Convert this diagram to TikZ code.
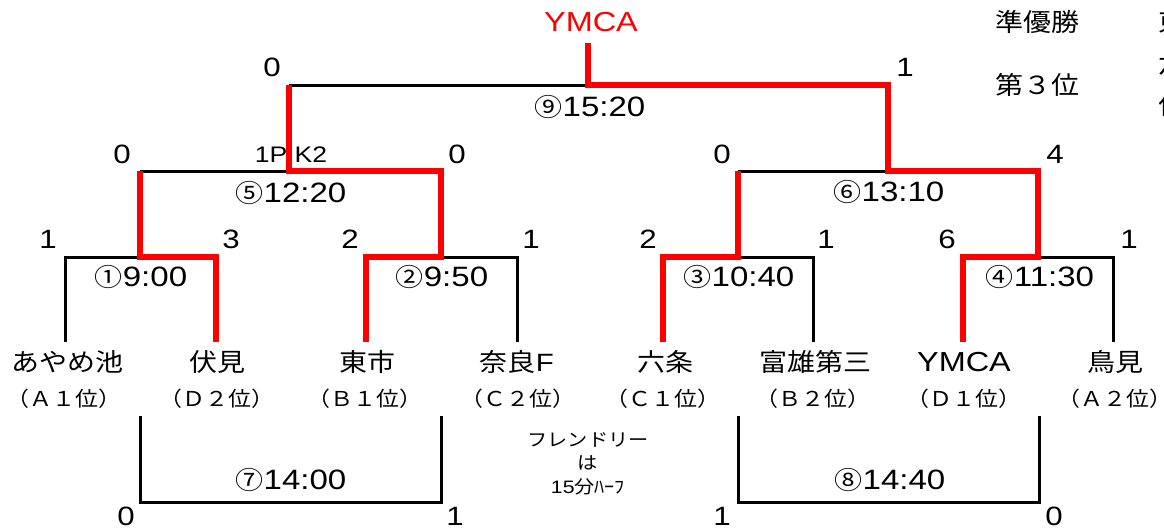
\documentclass[tikz,border=0pt]{standalone}
\usepackage{fontspec}
\newfontfamily\jp[FakeStretch=1.12]{Noto Sans CJK JP}
\newfontfamily\lat[FakeStretch=1.18]{Liberation Sans}
\tikzset{
  blk/.style={line width=3pt, black},
  win/.style={line width=5.5pt, red},
  score/.style={font=\lat\fontsize{26.5}{26.5}\selectfont, inner sep=0pt},
  pk/.style={font=\lat\fontsize{22.5}{22.5}\selectfont, inner sep=0pt},
  time/.style={inner sep=0pt},
  team/.style={font=\jp\fontsize{25}{25}\selectfont, inner sep=0pt},
  teamlat/.style={font=\lat\fontsize{27.5}{27.5}\selectfont, inner sep=0pt},
  sub/.style={font=\jp\fontsize{20.5}{20.5}\selectfont, inner sep=0pt},
  note/.style={font=\jp\fontsize{18}{18}\selectfont, inner sep=0pt},
}
\newcommand{\tlab}[2]{{\jp\fontsize{25}{25}\selectfont #1}{\lat\fontsize{28}{28}\selectfont #2}}
\begin{document}
\begin{tikzpicture}[x=1pt,y=-1pt]
\useasboundingbox (0,0) rectangle (1164,528);
\clip (0,0) rectangle (1164,528);
\fill[white] (0,0) rectangle (1164,528);

% ---- bracket coordinates ----
\coordinate (t1) at (65,342);
\coordinate (t2) at (216,342);
\coordinate (t3) at (366,342);
\coordinate (t4) at (517,342);
\coordinate (t5) at (663,342);
\coordinate (t6) at (813,342);
\coordinate (t7) at (963,342);
\coordinate (t8) at (1113,342);
\coordinate (m1) at (140,257);
\coordinate (m2) at (441,257);
\coordinate (m3) at (738,257);
\coordinate (m4) at (1038,257);
\coordinate (m5) at (289,171);
\coordinate (m6) at (888,171);
\coordinate (m9) at (588,85);
\coordinate (ctop) at (588,43);
\coordinate (l7a) at (140,416);
\coordinate (l7b) at (441,416);
\coordinate (b7) at (290,502);
\coordinate (l8a) at (738,416);
\coordinate (l8b) at (1039,416);
\coordinate (b8) at (888,502);

% ---- texts ----
\node[teamlat, red] (champ) at (591,22) {YMCA};
\node[team] (lab2) at (1037,22) {準優勝};
\node[team] (lab3) at (1037,85) {第３位};
\node[team, anchor=west] (ru) at (1158,22) {東市};
\node[team, anchor=west] (th1) at (1158,64) {六条};
\node[team, anchor=west] (th2) at (1158,105) {伏見};

\node[score] (s9a) at (272,67) {0};
\node[score] (s9b) at (905,67) {1};
\node[time] (g9) at (590,107) {\tlab{⑨}{15:20}};

\node[score] (s5a) at (122,154) {0};
\node[score] (s5b) at (457,154) {0};
\node[pk] (pk5) at (291,155) {1P\,\,K2};
\node[time] (g5) at (291,193) {\tlab{⑤}{12:20}};

\node[score] (s6a) at (722,154) {0};
\node[score] (s6b) at (1055,154) {4};
\node[time] (g6) at (889,192) {\tlab{⑥}{13:10}};

\node[score] (s1a) at (48,239) {1};
\node[score] (s1b) at (231,239) {3};
\node[score] (s2a) at (350,239) {2};
\node[score] (s2b) at (531,239) {1};
\node[score] (s3a) at (648,239) {2};
\node[score] (s3b) at (826,239) {1};
\node[score] (s4a) at (947,239) {6};
\node[score] (s4b) at (1129,239) {1};
\node[time] (g1) at (141,277) {\tlab{①}{9:00}};
\node[time] (g2) at (442,277) {\tlab{②}{9:50}};
\node[time] (g3) at (739,277) {\tlab{③}{10:40}};
\node[time] (g4) at (1040,277) {\tlab{④}{11:30}};

\node[team] (n1) at (67,362) {あやめ池};
\node[team] (n2) at (217,362) {伏見};
\node[team] (n3) at (367,362) {東市};
\node[team] (n4) at (517,362) {奈良{\lat F}};
\node[team] (n5) at (665,362) {六条};
\node[team] (n6) at (815,362) {富雄第三};
\node[teamlat] (n7) at (964,362) {YMCA};
\node[team] (n8) at (1115,362) {鳥見};

\node[sub] (p1) at (64,399) {（Ａ１位）};
\node[sub] (p2) at (217,399) {（Ｄ２位）};
\node[sub] (p3) at (365,399) {（Ｂ１位）};
\node[sub] (p4) at (518,399) {（Ｃ２位）};
\node[sub] (p5) at (663,399) {（Ｃ１位）};
\node[sub] (p6) at (813,399) {（Ｂ２位）};
\node[sub] (p7) at (964,399) {（Ｄ１位）};
\node[sub] (p8) at (1115,399) {（Ａ２位）};

\node[note] (f1) at (588,440) {フレンドリー};
\node[note] (f2) at (588,463) {は};
\node[note] (f3) at (588,487) {{\lat 15}分ﾊｰﾌ};

\node[time] (g7) at (291,480) {\tlab{⑦}{14:00}};
\node[time] (g8) at (890,480) {\tlab{⑧}{14:40}};
\node[score] (s7a) at (126,516) {0};
\node[score] (s7b) at (455,516) {1};
\node[score] (s8a) at (722,516) {1};
\node[score] (s8b) at (1054,516) {0};

% ---- black bracket lines ----
\draw[blk] (t1) |- (m1);
\draw[blk] (m2) -| (t4);
\draw[blk] (m3) -| (t6);
\draw[blk] (m4) -| (t8);
\draw[blk] (m1 |- m5) -- (m5);
\draw[blk] (m3 |- m6) -- (m6);
\draw[blk] (m5 |- m9) -- (m9);
\draw[blk] (l7a) |- (b7) -| (l7b);
\draw[blk] (l8a) |- (b8) -| (l8b);

% ---- winners (red) ----
\draw[win] (t2) |- (m1) -- (m1 |- m5);
\draw[win] (t3) |- (m2) |- (m5) -- (m5 |- m9);
\draw[win] (t5) |- (m3) -- (m3 |- m6);
\draw[win] (t7) |- (m4) |- (m6) |- (m9) -- (ctop);
\end{tikzpicture}
\end{document}
